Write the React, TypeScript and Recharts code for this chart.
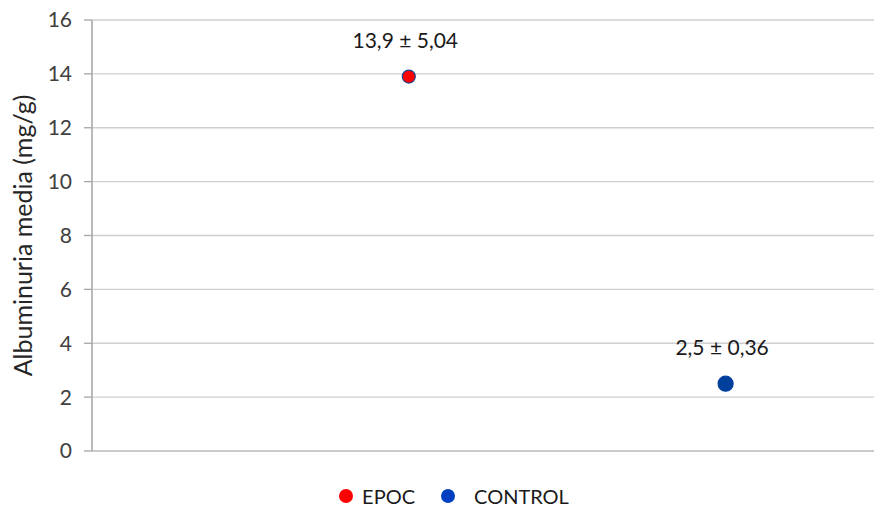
import { CartesianGrid, LabelList, Scatter, ScatterChart, XAxis, YAxis } from 'recharts';

const groups = ['EPOC', 'CONTROL'];
const groupX = [2, 4];
const means = [13.9, 2.5];
const sdLabels = ['13,9 ± 5,04', '2,5 ± 0,36'];
const xTicks = [0, 1, 2, 3, 4, 5];
const yTicks = [0, 2, 4, 6, 8, 10, 12, 14, 16];

const COLORS: Record<string, { fill: string; stroke: string; r: number; legend: string }> = {
  EPOC: { fill: '#ff0000', stroke: '#1f3f8f', r: 6.5, legend: '#ff0000' },
  CONTROL: { fill: '#003f9c', stroke: '#003f9c', r: 7.5, legend: '#0040c0' },
};

const FONT = 'Lato, "Open Sans", sans-serif';

const series = groups.map((name, i) => ({
  name,
  data: [{ x: groupX[i], y: means[i], label: sdLabels[i] }],
}));

// eslint-disable-next-line @typescript-eslint/no-explicit-any
function PointLabel({ x, y, value }: any) {
  return (
    <text x={x + 1} y={y - 24} textAnchor="middle" fontSize={21} fontFamily={FONT} fill="#1a1a1a">
      {value}
    </text>
  );
}

export default function App() {
  return (
    <div
      style={{
        position: 'absolute',
        left: 0,
        top: 0,
        width: 874,
        height: 508,
        overflow: 'hidden',
        background: '#fff',
        fontFamily: FONT,
      }}
    >
      <ScatterChart width={900} height={508} margin={{ top: 20, right: 16, left: 0, bottom: 52 }}>
        <CartesianGrid stroke="#cfcfcf" strokeWidth={1.3} />
        <XAxis
          type="number"
          dataKey="x"
          domain={[0, 5]}
          ticks={xTicks}
          tick={false}
          tickLine={false}
          height={5}
          axisLine={{ stroke: '#c4c4c4', strokeWidth: 1.3 }}
        />
        <YAxis
          type="number"
          dataKey="y"
          domain={[0, 16]}
          ticks={yTicks}
          width={92}
          tickSize={8}
          tickMargin={12}
          interval={0}
          tick={{ fill: '#404040', fontSize: 21, fontFamily: FONT }}
          tickLine={{ stroke: '#a6a6a6', strokeWidth: 1.3 }}
          axisLine={{ stroke: '#a6a6a6', strokeWidth: 1.3 }}
          label={{
            value: 'Albuminuria media (mg/g)',
            angle: -90,
            position: 'insideLeft',
            dx: 18,
            dy: 0,
            style: { textAnchor: 'middle', fill: '#262626', fontSize: 25, fontFamily: FONT },
          }}
        />
        {series.map((s) => {
          const c = COLORS[s.name];
          return (
            <Scatter
              key={s.name}
              name={s.name}
              data={s.data}
              isAnimationActive={false}
              shape={(props: any) => (
                <circle cx={props.cx} cy={props.cy} r={c.r} fill={c.fill} stroke={c.stroke} strokeWidth={1.2} />
              )}
            >
              <LabelList dataKey="label" content={<PointLabel />} />
            </Scatter>
          );
        })}
      </ScatterChart>
      <div
        style={{
          position: 'absolute',
          top: 484,
          left: 0,
          width: 874,
          display: 'flex',
          justifyContent: 'center',
          paddingLeft: 34,
          boxSizing: 'border-box',
          fontSize: 20,
          color: '#1a1a1a',
        }}
      >
        {groups.map((name, i) => (
          <div key={name} style={{ display: 'flex', alignItems: 'center', marginLeft: i === 0 ? 0 : 26 }}>
            <span
              style={{
                display: 'inline-block',
                width: 14,
                height: 14,
                borderRadius: '50%',
                background: COLORS[name].legend,
                marginRight: i === 0 ? 9 : 19,
              }}
            />
            <span>{name}</span>
          </div>
        ))}
      </div>
    </div>
  );
}
